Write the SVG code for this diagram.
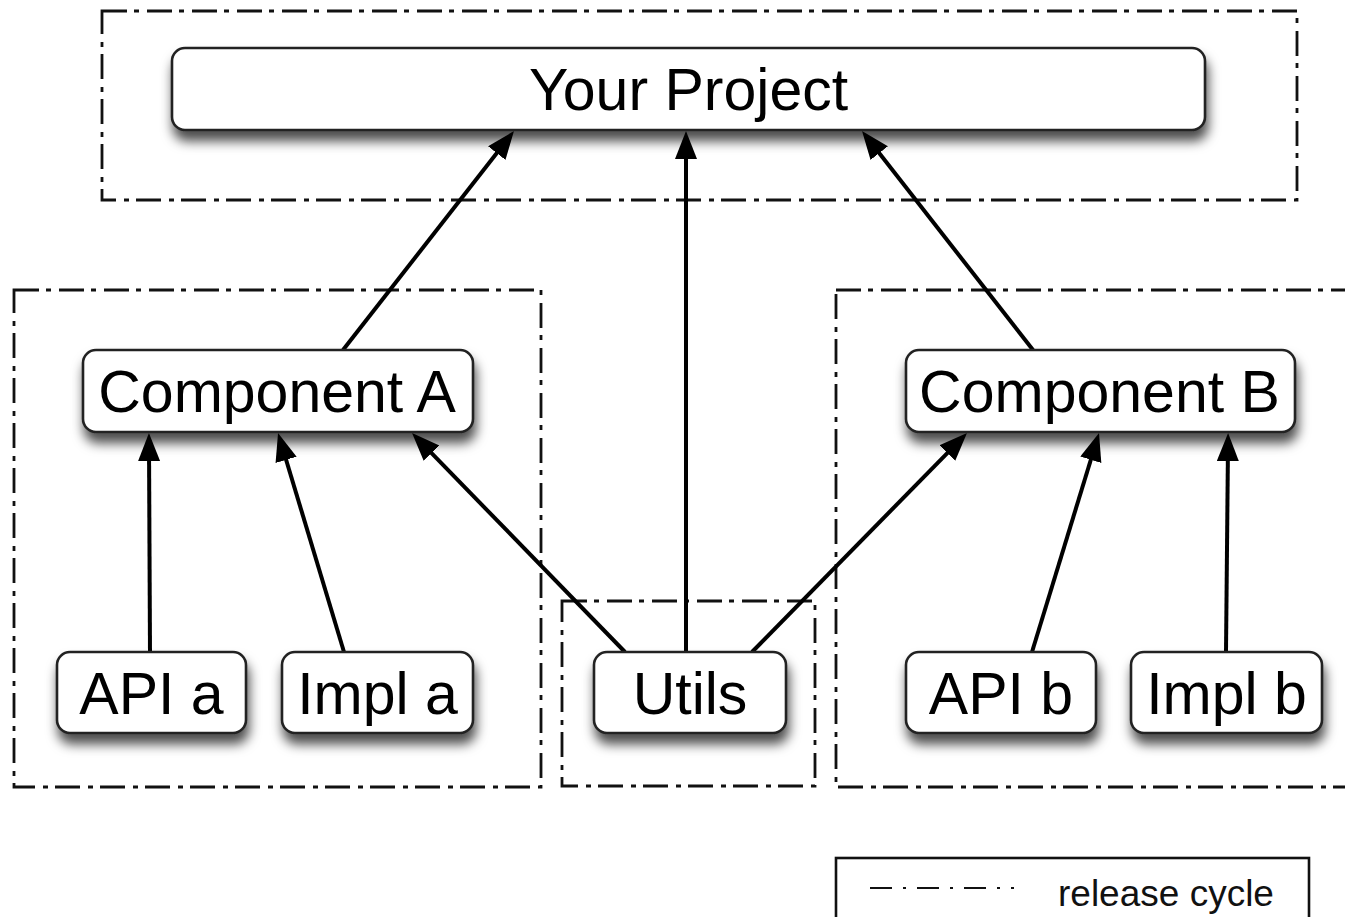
<svg xmlns="http://www.w3.org/2000/svg" width="1345" height="917" viewBox="0 0 1345 917">
  <defs>
    <style>
      .cycle { fill: none; stroke: #111; stroke-width: 2.8; stroke-dasharray: 25 7 5 8; }
      .node rect { fill: #fff; stroke: #222; stroke-width: 2.6; filter: url(#shadow); }
      .node text { font-family: "Liberation Sans", Arial, sans-serif; font-size: 59px; fill: #000; text-anchor: middle; }
      .conn line { stroke: #000; stroke-width: 4; marker-end: url(#arrow); }
      .legend-text { font-family: "Liberation Sans", Arial, sans-serif; font-size: 37px; fill: #111; }
    </style>
    <marker id="arrow" markerUnits="userSpaceOnUse" markerWidth="30" markerHeight="24" refX="16" refY="11" orient="auto">
      <path d="M0,0 L28,11 L0,22 Z" fill="#000"/>
    </marker>
    <filter id="shadow" x="-10%" y="-25%" width="125%" height="180%">
      <feDropShadow dx="2" dy="10" stdDeviation="6" flood-color="#000" flood-opacity="0.7"/>
    </filter>
  </defs>

  <g id="release-cycles">
    <rect class="cycle" x="102" y="11" width="1195" height="189"/>
    <rect class="cycle" x="14" y="290" width="527" height="497"/>
    <rect class="cycle" x="562" y="601" width="253" height="185"/>
    <rect class="cycle" x="836" y="290" width="530" height="497"/>
  </g>

  <g id="connectors" class="conn">
    <line x1="343" y1="350" x2="506.6" y2="140.5"/>
    <line x1="686" y1="652" x2="686" y2="143"/>
    <line x1="1033" y1="350" x2="869.4" y2="140.5"/>
    <line x1="150" y1="652" x2="149" y2="445"/>
    <line x1="344" y1="652" x2="281.5" y2="444.5"/>
    <line x1="625" y1="652" x2="420.4" y2="441.6"/>
    <line x1="752" y1="652" x2="958.6" y2="441.6"/>
    <line x1="1032" y1="652" x2="1095.5" y2="444.5"/>
    <line x1="1226" y1="652" x2="1228" y2="445"/>
  </g>

  <g id="your-project" class="node">
    <rect x="172" y="48" width="1033" height="82" rx="13"/>
    <text x="688.5" y="110">Your Project</text>
  </g>
  <g id="component-a" class="node">
    <rect x="83" y="350" width="390" height="82" rx="13"/>
    <text x="277" y="412">Component A</text>
  </g>
  <g id="component-b" class="node">
    <rect x="906" y="350" width="389" height="82" rx="13"/>
    <text x="1099.5" y="412">Component B</text>
  </g>
  <g id="api-a" class="node">
    <rect x="57" y="652" width="189" height="81" rx="13"/>
    <text x="151.5" y="714">API a</text>
  </g>
  <g id="impl-a" class="node">
    <rect x="282" y="652" width="191" height="81" rx="13"/>
    <text x="377.5" y="714">Impl a</text>
  </g>
  <g id="utils" class="node">
    <rect x="594" y="652" width="192" height="81" rx="13"/>
    <text x="690" y="714">Utils</text>
  </g>
  <g id="api-b" class="node">
    <rect x="906" y="652" width="190" height="81" rx="13"/>
    <text x="1001" y="714">API b</text>
  </g>
  <g id="impl-b" class="node">
    <rect x="1131" y="652" width="191" height="81" rx="13"/>
    <text x="1226.5" y="714">Impl b</text>
  </g>

  <g id="legend">
    <rect x="836" y="858" width="473" height="80" fill="#fff" stroke="#111" stroke-width="2.6"/>
    <line x1="870" y1="888" x2="1014" y2="888" stroke="#111" stroke-width="2" stroke-dasharray="22 11 3 11"/>
    <text class="legend-text" x="1058" y="906">release cycle</text>
  </g>
</svg>
